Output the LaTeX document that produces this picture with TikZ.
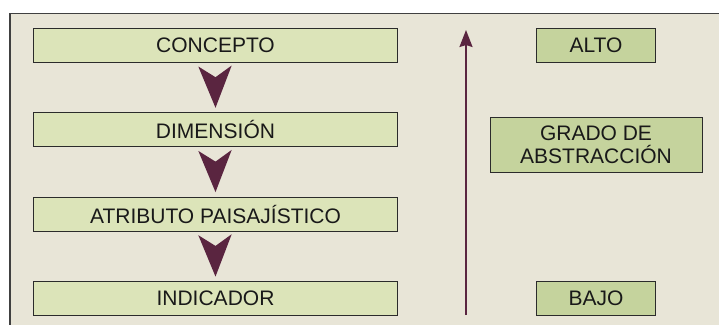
\documentclass[tikz,border=0pt]{standalone}
\usepackage{fontspec}
\setmainfont{Liberation Sans}
\usetikzlibrary{calc,arrows.meta}
\definecolor{bgframe}{HTML}{E8E5D7}
\definecolor{lightbox}{HTML}{DCE4B9}
\definecolor{darkbox}{HTML}{C5D39D}
\definecolor{plum}{HTML}{5A2540}
\definecolor{edge}{HTML}{2B2B2B}
\tikzset{
  lbox/.style={draw=edge, line width=1bp, fill=lightbox, minimum width=363bp, minimum height=34bp, inner sep=0pt, font=\fontsize{21bp}{23.3bp}\selectfont, text=black!90},
  rbox/.style={draw=edge, line width=1bp, fill=darkbox, minimum width=118.6bp, minimum height=34bp, inner sep=0pt, font=\fontsize{21bp}{23.3bp}\selectfont, text=black!90, align=center},
  chevron/.style={fill=plum, draw=none},
  upaxis/.style={draw=plum, line width=2bp, -{Stealth[width=13bp,length=17bp,inset=2bp]}}
}
\begin{document}
\begin{tikzpicture}[x=1bp,y=-1bp]
\useasboundingbox (0,0) rectangle (719,324);
\begin{scope}
\clip (0,0) rectangle (719,324);
\draw[fill=bgframe, draw=edge!90, line width=1.2bp] (10,13.3) rectangle (740,340);
\end{scope}
\node[lbox] (c1) at (215.5,45.3) {\raisebox{-1bp}{CONCEPTO}};
\node[lbox] (c2) at (215.5,129.7) {\raisebox{-1bp}{DIMENSIÓN}};
\node[lbox] (c3) at (215.5,214) {\raisebox{-1bp}{ATRIBUTO PAISAJÍSTICO}};
\node[lbox] (c4) at (215.5,298.5) {\raisebox{-1bp}{INDICADOR}};
\node[rbox] (alto) at (596,45.3) {\raisebox{-1bp}{ALTO}};
\node[rbox, minimum width=212bp, minimum height=55.4bp] (grado) at (596,145) {GRADO DE\\ABSTRACCIÓN};
\node[rbox] (bajo) at (596,298.5) {\raisebox{-1bp}{BAJO}};
\foreach \a/\b in {c1/c2,c2/c3,c3/c4}{
  \fill[chevron] ($(\a.south)+(-17.2,3.7)$) -- ($(\a.south)+(0,14.4)$) -- ($(\a.south)+(16.2,2.7)$) -- ($(\b.north)+(0,-4.4)$) -- cycle;
}
\coordinate (lo) at (466,315);
\coordinate (hi) at (466,30);
\draw[upaxis] (lo) -- (hi);
\end{tikzpicture}
\end{document}
